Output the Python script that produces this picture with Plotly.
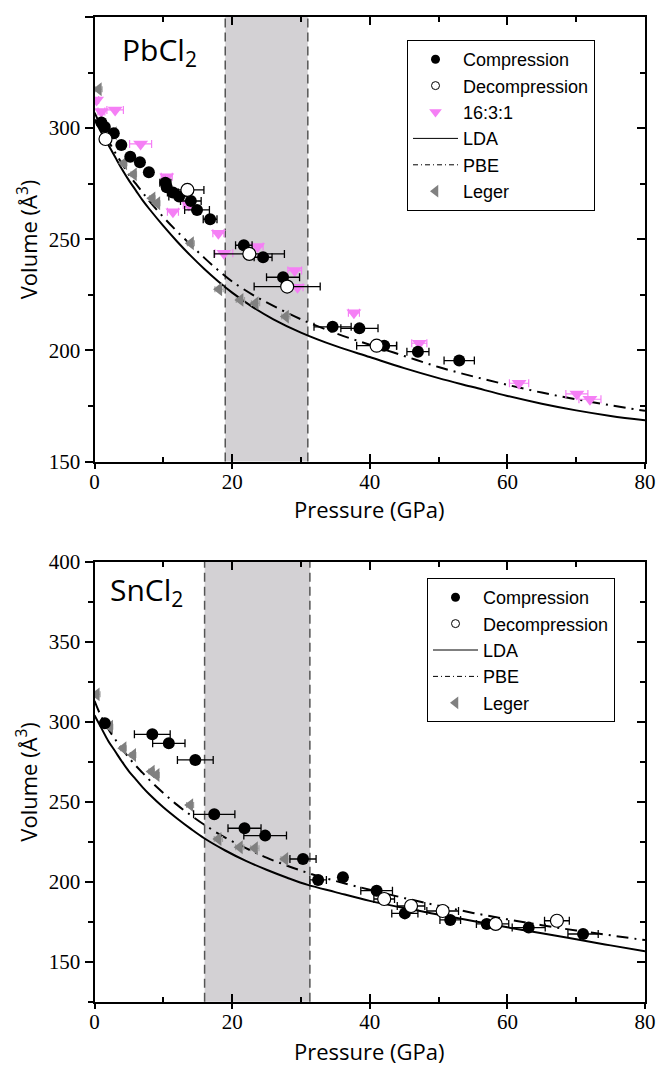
import plotly.graph_objects as go

# window size and the 8px page margin that the browser adds around the figure
WIN_W, WIN_H = 669, 1068
OFF = 8
W, H = WIN_W - OFF, WIN_H - OFF

# ---------------- PbCl2 (top panel) ----------------
pb_comp_P = [1.0, 1.5, 2.8, 3.9, 5.2, 6.6, 7.9, 10.3, 10.5, 11.4, 12.3, 14.0, 14.9, 16.8, 21.7, 24.5, 27.4, 34.6, 38.5, 42.1, 47.0, 53.0]
pb_comp_V = [302.5, 300.5, 297.7, 292.4, 287.1, 284.6, 280.1, 275.4, 273.4, 271.0, 269.2, 267.2, 263.2, 259.0, 247.3, 241.9, 232.9, 210.6, 209.9, 202.1, 199.4, 195.4]
pb_comp_err = [0.3, 0.3, 0.4, 0.3, 0.3, 0.3, 0.3, 0.8, 0.6, 0.8, 1.5, 1.5, 1.8, 1.0, 1.2, 1.3, 2.4, 2.7, 2.7, 1.8, 1.6, 2.2]

pb_dec_P = [1.6, 13.5, 22.5, 28.0, 41.0]
pb_dec_V = [295.1, 272.2, 243.4, 228.7, 202.1]
pb_dec_err = [0.3, 2.4, 5.1, 4.8, 2.9]

pb_mix_P = [0.3, 1.0, 3.0, 6.7, 10.5, 11.4, 13.7, 18.0, 18.8, 23.7, 29.1, 29.5, 37.7, 47.2, 61.7, 70.1, 72.0]
pb_mix_V = [312.7, 307.5, 308.2, 292.9, 278.1, 262.4, 265.4, 252.7, 243.7, 246.7, 235.9, 228.4, 216.9, 203.2, 185.2, 180.4, 178.0]
pb_mix_err = [0.3, 0.5, 1.2, 1.6, 0.8, 0.8, 0.8, 0.8, 1.3, 0.8, 1.0, 0.8, 0.8, 1.1, 1.4, 1.6, 1.6]

pb_leg_P = [0.6, 2.8, 4.3, 5.7, 8.4, 9.1, 14.0, 18.1, 21.2, 23.4, 27.8]
pb_leg_V = [317.5, 297.7, 284.2, 279.2, 268.4, 266.2, 248.2, 227.5, 222.7, 221.2, 215.2]
pb_leg_err = [0.5, 0.4, 0.4, 0.4, 0.4, 0.4, 0.5, 0.6, 0.6, 0.6, 0.6]

pb_lda_P = [0, 1, 2, 3, 4, 5, 6, 7, 8, 10, 12, 14, 16, 18, 20, 23, 26, 30, 35, 40, 45, 50, 55, 60, 65, 70, 75, 80]
pb_lda_V = [304, 298, 292.5, 287, 281.5, 276.5, 272, 267.5, 263.5, 256, 249, 242.5, 236.5, 231, 226, 219.5, 214, 208, 202, 197, 192, 187.5, 183.5, 179.5, 176, 173, 170.5, 168.5]

pb_pbe_P = [0, 1, 2, 3, 4, 5, 6, 7, 8, 10, 12, 14, 16, 18, 20, 23, 26, 30, 35, 40, 45, 50, 55, 60, 65, 70, 75, 80]
pb_pbe_V = [307, 300.5, 294.5, 289, 284, 279, 275, 271, 267, 260, 253.5, 247.5, 241.5, 236, 231, 225, 220, 214, 207.8, 202.5, 197.5, 192.5, 188.3, 184.5, 181, 178, 175.3, 172.8]

pb_shade = [19.0, 31.0]

# ---------------- SnCl2 (bottom panel) ----------------
sn_comp_P = [1.5, 8.4, 10.8, 14.65, 17.4, 21.8, 24.8, 30.3, 32.5, 36.1, 41.0, 45.1, 51.7, 57.0, 63.1, 71.0]
sn_comp_V = [299.0, 292.1, 286.5, 276.1, 242.1, 233.4, 228.8, 214.2, 201.1, 202.8, 194.4, 180.2, 176.1, 173.6, 171.3, 167.3]
sn_comp_err = [0.3, 2.6, 2.35, 2.6, 3.0, 2.4, 3.1, 1.9, 1.2, 0.5, 2.3, 1.9, 1.5, 1.5, 2.4, 2.2]

sn_dec_P = [42.1, 46.0, 50.6, 58.3, 67.2]
sn_dec_V = [189.2, 184.8, 181.7, 173.6, 175.6]
sn_dec_err = [1.5, 2.0, 2.3, 1.9, 1.8]

sn_leg_P = [0.3, 2.25, 4.2, 5.6, 8.3, 9.0, 13.9, 18.0, 21.1, 23.3, 27.7]
sn_leg_V = [317.1, 296.9, 283.4, 279.2, 268.8, 266.7, 247.9, 226.7, 221.5, 220.9, 214.2]
sn_leg_err = [0.5, 0.4, 0.4, 0.4, 0.4, 0.4, 0.5, 0.6, 0.6, 0.6, 0.6]

sn_lda_P = [0, 1, 2, 3, 4, 5, 6, 7, 8, 10, 12, 14, 16, 19, 22, 25, 28, 31, 35, 40, 45, 50, 55, 60, 65, 70, 75, 80]
sn_lda_V = [304, 296, 288, 281.5, 275, 269, 264, 259, 254.5, 246.5, 239.5, 233, 227, 219.5, 213, 207.5, 202.5, 198, 193.5, 188, 183.5, 179.5, 175.5, 171.5, 167.8, 164, 160.2, 156.5]

sn_pbe_P = [0, 1, 2, 3, 4, 5, 6, 7, 8, 10, 12, 14, 16, 19, 22, 25, 28, 31, 35, 40, 45, 50, 55, 60, 65, 70, 75, 80]
sn_pbe_V = [313, 303, 295.5, 289, 283, 277.5, 272.5, 268, 263.5, 255.5, 248, 241.5, 235.5, 227.5, 221, 215, 210, 205.5, 200.5, 195, 189.8, 185, 180.5, 176.5, 172.8, 169.5, 166.5, 163.5]

sn_shade = [16.0, 31.3]

# ---------------- axes / labels ----------------
x_range = [0, 80]
x_ticks = [0, 20, 40, 60, 80]
pb_y_range = [150, 350]
pb_y_ticks = [150, 200, 250, 300, 350]
sn_y_range = [125, 400]
sn_y_ticks = [150, 200, 250, 300, 350, 400]
x_title = "Pressure (GPa)"
y_title = "Volume (Å<sup>3</sup>)"
pb_label = "PbCl<sub>2</sub>"
sn_label = "SnCl<sub>2</sub>"

TICKFONT = dict(family="Liberation Serif, Times New Roman, serif", size=21, color="black")
TITLEFONT = dict(family="Open Sans", size=22, color="black")
LEGFONT = dict(family="Liberation Sans", size=18, color="black")

BLACK = "black"
MAGENTA = "#f57ff5"
GRAY = "#808080"
SHADE = "#d3d1d4"


def px(xw):  # window x -> paper fraction
    return (xw - OFF) / W


def py(yw):  # window y -> paper fraction
    return (WIN_H - yw) / H


X0, X1 = 94.5, 645
TOP_Y0, TOP_Y1 = 17, 461.5
BOT_Y0, BOT_Y1 = 561.7, 1001.7
XDOM = [px(X0), px(X1)]
TOP_DOM = [py(TOP_Y1), py(TOP_Y0)]
BOT_DOM = [py(BOT_Y1), py(BOT_Y0)]

fig = go.Figure()


def add_panel(xa, ya, lda, pbe, comp, dec, leg, mix, legend_name):
    fig.add_trace(go.Scatter(x=lda[0], y=lda[1], mode="lines", line=dict(color=BLACK, width=2, shape="spline"),
                             xaxis=xa, yaxis=ya, showlegend=False, hoverinfo="skip"))
    fig.add_trace(go.Scatter(x=pbe[0], y=pbe[1], mode="lines",
                             line=dict(color=BLACK, width=2, dash="12px,6px,2px,6px", shape="spline"),
                             xaxis=xa, yaxis=ya, showlegend=False, hoverinfo="skip"))
    fig.add_trace(go.Scatter(x=leg[0], y=leg[1], mode="markers",
                             marker=dict(symbol="triangle-left", size=12, color=GRAY),
                             error_x=dict(type="data", array=leg[2], color="#a0a0a0", thickness=1.2, width=3),
                             xaxis=xa, yaxis=ya, showlegend=False))
    if mix is not None:
        fig.add_trace(go.Scatter(x=mix[0], y=mix[1], mode="markers",
                                 marker=dict(symbol="triangle-down", size=13, color=MAGENTA),
                                 error_x=dict(type="data", array=mix[2], color=MAGENTA, thickness=1.2, width=4),
                                 xaxis=xa, yaxis=ya, showlegend=False))
    fig.add_trace(go.Scatter(x=comp[0], y=comp[1], mode="markers",
                             marker=dict(symbol="circle", size=12, color=BLACK),
                             error_x=dict(type="data", array=comp[2], color=BLACK, thickness=1.3, width=4),
                             xaxis=xa, yaxis=ya, showlegend=False))
    fig.add_trace(go.Scatter(x=dec[0], y=dec[1], mode="markers",
                             marker=dict(symbol="circle", size=13, color="white", line=dict(color=BLACK, width=1.2)),
                             error_x=dict(type="data", array=dec[2], color=BLACK, thickness=1.3, width=4),
                             xaxis=xa, yaxis=ya, showlegend=False))
    entries = [
        ("Compression", dict(mode="markers", marker=dict(symbol="circle", size=9, color=BLACK))),
        ("Decompression", dict(mode="markers", marker=dict(symbol="circle", size=8, color="white", line=dict(color=BLACK, width=1)))),
    ]
    if mix is not None:
        entries.append(("16:3:1", dict(mode="markers", marker=dict(symbol="triangle-down", size=11, color=MAGENTA))))
    entries += [
        ("LDA", dict(mode="lines", line=dict(color=BLACK, width=1))),
        ("PBE", dict(mode="lines", line=dict(color=BLACK, width=1, dash="5px,3px,1px,3px"))),
        ("Leger", dict(mode="markers", marker=dict(symbol="triangle-left", size=11, color=GRAY))),
    ]
    for name, kw in entries:
        fig.add_trace(go.Scatter(x=[None], y=[None], name=name, legend=legend_name, xaxis=xa, yaxis=ya, **kw))


add_panel("x", "y", (pb_lda_P, pb_lda_V), (pb_pbe_P, pb_pbe_V), (pb_comp_P, pb_comp_V, pb_comp_err),
          (pb_dec_P, pb_dec_V, pb_dec_err), (pb_leg_P, pb_leg_V, pb_leg_err), (pb_mix_P, pb_mix_V, pb_mix_err), "legend")
add_panel("x2", "y2", (sn_lda_P, sn_lda_V), (sn_pbe_P, sn_pbe_V), (sn_comp_P, sn_comp_V, sn_comp_err),
          (sn_dec_P, sn_dec_V, sn_dec_err), (sn_leg_P, sn_leg_V, sn_leg_err), None, "legend2")

for xr, yr, shade in [("x", "y", pb_shade), ("x2", "y2", sn_shade)]:
    fig.add_shape(type="rect", xref=xr, yref=yr + " domain", x0=shade[0], x1=shade[1], y0=0, y1=1,
                  fillcolor=SHADE, line=dict(width=0), layer="below")
    for xv in shade:
        fig.add_shape(type="line", xref=xr, yref=yr + " domain", x0=xv, x1=xv, y0=0, y1=1,
                      line=dict(color="#555555", width=1.5, dash="9px,5px"), layer="below")


def xaxis_cfg(domain, anchor):
    return dict(domain=domain, anchor=anchor, range=x_range, tickvals=x_ticks, ticks="inside", ticklen=8,
                tickwidth=1.5, tickcolor="black", showline=True, linecolor="black", linewidth=2, mirror="ticks",
                minor=dict(dtick=10, tick0=0, ticks="inside", ticklen=5, tickwidth=1.5, tickcolor="black"),
                showgrid=False, zeroline=False, tickfont=TICKFONT, automargin=False)


def xcross_cfg(overlay, anchor):
    return dict(overlaying=overlay, anchor=anchor, side="bottom", range=x_range, tickvals=x_ticks,
                ticks="outside", ticklen=6, tickwidth=1.5, tickcolor="black", showticklabels=False,
                showline=False, showgrid=False, zeroline=False, automargin=False)


def yaxis_cfg(domain, anchor, rng, ticks):
    return dict(domain=domain, anchor=anchor, range=rng, tickvals=ticks, ticks="outside", ticklen=8,
                tickwidth=1.5, tickcolor="black", showline=True, linecolor="black", linewidth=2, mirror=True,
                minor=dict(dtick=25, tick0=0, ticks="outside", ticklen=5, tickwidth=1.5, tickcolor="black"),
                showgrid=False, zeroline=False, tickfont=TICKFONT, automargin=False)


def yright_cfg(overlay, anchor, rng, ticks):
    return dict(overlaying=overlay, anchor=anchor, side="right", range=rng, tickvals=ticks, ticks="inside",
                ticklen=8, tickwidth=1.5, tickcolor="black", showticklabels=False, showline=False,
                minor=dict(dtick=25, tick0=0, ticks="inside", ticklen=5, tickwidth=1.5, tickcolor="black"),
                showgrid=False, zeroline=False, automargin=False)


fig.update_layout(
    width=W, height=H, margin=dict(l=0, r=0, t=0, b=0, autoexpand=False),
    plot_bgcolor="rgba(0,0,0,0)", paper_bgcolor="white",
    xaxis=xaxis_cfg(XDOM, "y"),
    yaxis=yaxis_cfg(TOP_DOM, "x", pb_y_range, pb_y_ticks),
    xaxis2=xaxis_cfg(XDOM, "y2"),
    yaxis2=yaxis_cfg(BOT_DOM, "x2", sn_y_range, sn_y_ticks),
    yaxis3=yright_cfg("y", "x", pb_y_range, pb_y_ticks),
    yaxis4=yright_cfg("y2", "x2", sn_y_range, sn_y_ticks),
    xaxis3=xcross_cfg("x", "y"),
    xaxis4=xcross_cfg("x2", "y2"),
    legend=dict(x=px(407), y=py(40), xanchor="left", yanchor="top", bgcolor="white",
                bordercolor="black", borderwidth=1, font=LEGFONT, tracegroupgap=0, itemwidth=45),
    legend2=dict(x=px(427), y=py(578), xanchor="left", yanchor="top", bgcolor="white",
                 bordercolor="black", borderwidth=1, font=LEGFONT, tracegroupgap=0, itemwidth=45),
    showlegend=True,
)

fig.add_trace(go.Scatter(x=[None], y=[None], xaxis="x", yaxis="y3", showlegend=False))
fig.add_trace(go.Scatter(x=[None], y=[None], xaxis="x2", yaxis="y4", showlegend=False))
fig.add_trace(go.Scatter(x=[None], y=[None], xaxis="x3", yaxis="y", showlegend=False))
fig.add_trace(go.Scatter(x=[None], y=[None], xaxis="x4", yaxis="y2", showlegend=False))

for yc in [509, 1051]:
    fig.add_annotation(text=x_title, xref="paper", yref="paper", x=px((X0 + X1) / 2), y=py(yc),
                       xanchor="center", yanchor="middle", showarrow=False, font=TITLEFONT)
for yc in [(TOP_Y0 + TOP_Y1) / 2, (BOT_Y0 + BOT_Y1) / 2]:
    fig.add_annotation(text=y_title, xref="paper", yref="paper", x=px(27), y=py(yc), textangle=-90,
                       xanchor="center", yanchor="middle", showarrow=False, font=TITLEFONT)

fig.add_annotation(text=pb_label, xref="paper", yref="paper", x=px(120), y=py(27),
                   xanchor="left", yanchor="top", showarrow=False,
                   font=dict(family="Open Sans", size=30, color="black"))
fig.add_annotation(text=sn_label, xref="paper", yref="paper", x=px(108), y=py(567),
                   xanchor="left", yanchor="top", showarrow=False,
                   font=dict(family="Open Sans", size=30, color="black"))

fig.write_html("out.html")
